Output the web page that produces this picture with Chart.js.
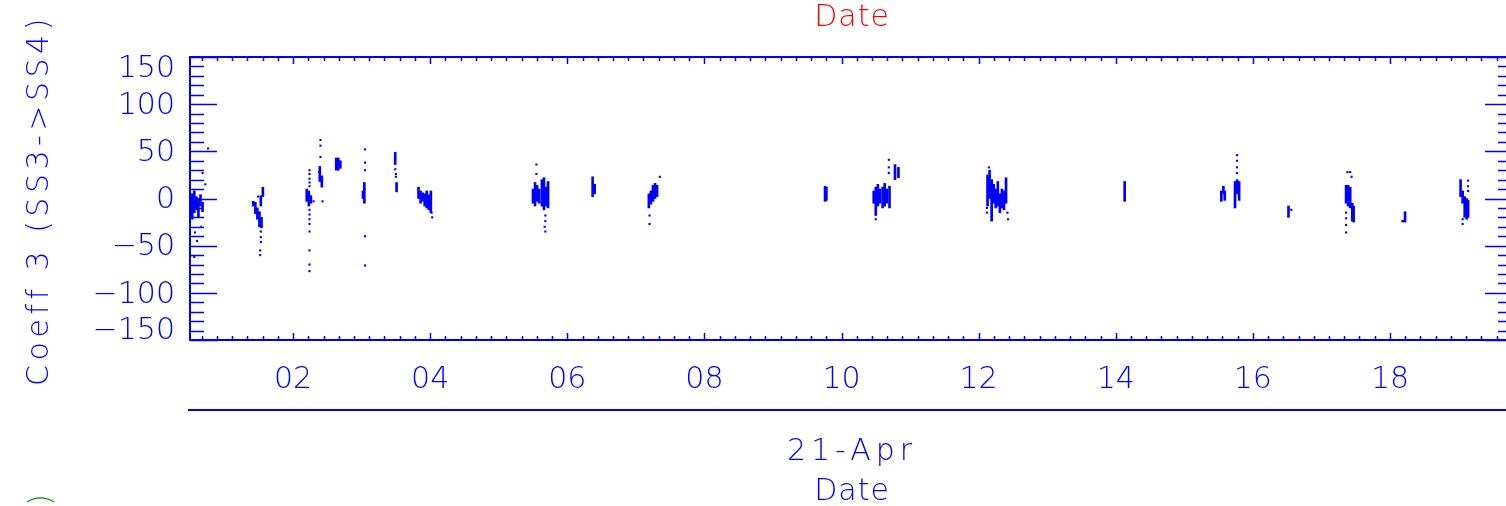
<!DOCTYPE html>
<html>
<head>
<meta charset="utf-8">
<script src="https://cdn.jsdelivr.net/npm/chart.js@4.4.1/dist/chart.umd.min.js"></script>
<style>
  html, body { margin: 0; padding: 0; background: #fff; overflow: hidden; }
  #wrap { width: 1520px; height: 506px; }
</style>
</head>
<body>
<div id="wrap"><canvas id="coeff3" width="1520" height="506"></canvas></div>
<script>
// x: hour of 21-Apr, y: coefficient 3 (SS3->SS4)
const xTickHours = [2, 4, 6, 8, 10, 12, 14, 16, 18];
const yTickValues = [-150, -100, -50, 0, 50, 100, 150];

// runs of consecutive samples -> short vertical dashes
const dashHour = [
  0.53, 0.56, 0.59, 0.62, 0.65, 0.68,
  1.42, 1.45, 1.48, 1.51, 1.54, 1.56, 1.53,
  2.20, 2.23, 2.26, 2.39, 2.42,
  2.63, 2.66, 2.69,
  3.04, 3.02, 3.49, 3.51,
  3.83, 3.86, 3.89, 3.92, 3.95, 3.98, 4.01,
  5.50, 5.53, 5.56, 5.59, 5.63, 5.66, 5.69, 5.72,
  6.37, 6.40,
  7.19, 7.22, 7.25, 7.28, 7.31,
  9.76, 9.78,
  10.47, 10.50, 10.53, 10.56, 10.60, 10.63, 10.66, 10.70, 10.78, 10.83,
  12.13, 12.16, 12.19, 12.22, 12.25, 12.28, 12.31, 12.34, 12.37, 12.40,
  14.13,
  15.54, 15.57, 15.59, 15.74, 15.77, 15.80,
  16.52,
  17.36, 17.39, 17.42, 17.45, 17.47,
  18.22,
  19.03, 19.06, 19.09, 19.12, 19.14
];
const dashLow = [
  -22, -15, -12, -20, -8, -14,
  -8, -16, -22, -30, -31, 2, -8,
  -3, -8, -5, 18, 12,
  30, 30, 32,
  -5, 0, 36, 7,
  0, -5, -3, -8, -10, -12, -15,
  -5, -8, -3, -5, -8, -12, -8, -10,
  2, 5,
  -10, -6, -3, 0, 2,
  -3, -2,
  -5, -18, -8, -5, -10, -8, -5, -10, 20, 22,
  -8, 0, -24, -5, -10, -8, -15, -10, -12, -5,
  -3,
  -3, 5, -2, -10, 5, -2,
  -20,
  -5, -8, -10, -24, -25,
  -25,
  2, -5, -20, -22, -20
];
const dashHigh = [
  5, 8, 2, 0, 4, -4,
  -3, -4, -10, -14, -20, 12, 3,
  10, 8, 3, 34, 24,
  43, 43, 40,
  17, 8, 49, 17,
  12, 8, 6, 5, 8, 4, 8,
  10, 17, 14, 10, 20, 22, 12, 18,
  23, 15,
  5, 8, 14, 16, 14,
  13, 12,
  8, 12, 15, 10, 12, 16, 10, 13, 36, 33,
  25, 30, 20, 15, 10, 18, 5, 10, 8, 22,
  18,
  8, 13, 8, 18, 20, 18,
  -8,
  14, 14, 12, -5, -8,
  -14,
  20, 8, 2, 0, -2
];

// isolated samples
const dotHour = [
  0.57, 0.60, 0.56, 0.66, 0.68, 0.72, 0.76,
  1.53, 1.53, 1.53, 1.52, 1.52, 1.49,
  2.24, 2.24, 2.24, 2.24, 2.24, 2.24, 2.24, 2.24, 2.24, 2.24, 2.24, 2.24, 2.24, 2.30,
  2.40, 2.40, 2.40, 2.38, 2.43,
  3.05, 3.05, 3.05, 3.05, 3.05,
  3.49, 3.50, 3.50,
  4.03, 4.02,
  5.55, 5.55, 5.68, 5.68, 5.67, 5.68,
  7.35, 7.20, 7.20,
  10.69, 10.69, 10.69, 10.50,
  12.15, 12.42, 12.43, 12.12, 12.12,
  15.77, 15.77, 15.77, 15.77,
  16.56,
  17.38, 17.42, 17.44, 17.36, 17.36, 17.36, 17.36,
  18.18, 18.20,
  19.14, 19.14, 19.14, 19.06, 19.06
];
const dotValue = [
  -36, -45, -62, -30, 27, 15, 53,
  -35, -41, -46, -55, -60, 2,
  30, 26, 21, 17, 13, -12, -17, -22, -27, -35, -55, -70, -77, -3,
  62, 56, 44, 28, -3,
  52, 38, 30, -40, -71,
  31, 26, 23,
  -20, -15,
  36, 26, -18, -24, -30, -35,
  23, -18, -27,
  41, 33, 27, -22,
  33, -15, -22, -10, -15,
  46, 40, 33, 27,
  -12,
  28, 28, 23, -15, -21, -28, -36,
  -24, -24,
  19, 13, 8, -22, -27
];

const BLUE = '#0000ff';
const FONT = '200 30px "DejaVu Sans"';

function label(ctx, str, x, y, opts = {}) {
  ctx.save();
  ctx.font = FONT;
  ctx.fillStyle = opts.color || BLUE;
  ctx.textAlign = opts.align || 'center';
  ctx.textBaseline = opts.baseline || 'alphabetic';
  ctx.letterSpacing = (opts.spacing || 0) + 'px';
  ctx.translate(x, y);
  if (opts.rotate) ctx.rotate(opts.rotate);
  ctx.fillText(str, 0, 0);
  ctx.restore();
}

// IDL style box: inward ticks on all four sides, plus the text around it
const idlFrame = {
  id: 'idlFrame',
  afterDraw(chart) {
    const { ctx, chartArea: a, scales: { x, y } } = chart;
    ctx.save();
    ctx.strokeStyle = BLUE;
    ctx.lineWidth = 2;
    ctx.strokeRect(a.left, a.top, a.right - a.left, a.bottom - a.top);

    ctx.beginPath();
    for (let k = 0; k <= 90; k++) {
      const v = k * 2 / 9;
      if (v < x.min || v > x.max) continue;
      const px = Math.round(x.getPixelForValue(v)) + 0.5;
      const len = k % 9 === 0 ? 7 : 4;
      ctx.moveTo(px, a.bottom); ctx.lineTo(px, a.bottom - len);
      ctx.moveTo(px, a.top); ctx.lineTo(px, a.top + len);
    }
    for (let v = -150; v <= 150; v += 10) {
      const py = Math.round(y.getPixelForValue(v)) + 0.5;
      const len = v % 50 === 0 ? 27 : 14;
      ctx.moveTo(a.left, py); ctx.lineTo(a.left + len, py);
      ctx.moveTo(a.right, py); ctx.lineTo(a.right - len, py);
    }
    ctx.lineWidth = 1.5;
    ctx.stroke();

    // date axis line under the plot
    ctx.beginPath();
    ctx.lineWidth = 2;
    ctx.moveTo(188, 410); ctx.lineTo(chart.width, 410);
    ctx.stroke();
    ctx.restore();

    yTickValues.forEach(v => {
      const py = y.getPixelForValue(v) + 2;
      const cy = Math.min(Math.max(py, a.top + 12), a.bottom - 9);
      const s = v < 0 ? '\u2212' + Math.abs(v) : String(v);
      label(ctx, s, 175, cy, { align: 'right', baseline: 'middle' });
    });

    label(ctx, 'Coeff 3 (SS3->SS4)', 40, 200, { rotate: -Math.PI / 2, baseline: 'middle', spacing: 4.5 });
    label(ctx, 'Date', 852, 26, { color: '#ff0000', spacing: 1 });
    label(ctx, '21-Apr', 852, 460, { spacing: 5 });
    label(ctx, 'Date', 852, 500, { spacing: 1 });
    label(ctx, ')', 42, 494, { color: '#008f00', rotate: -Math.PI / 2, align: 'right', baseline: 'middle' });
  }
};

new Chart(document.getElementById('coeff3'), {
  type: 'scatter',
  data: {
    datasets: [
      {
        type: 'bar',
        data: dashHour.map((h, i) => ({ x: h, y: [dashLow[i], dashHigh[i]] })),
        backgroundColor: BLUE,
        borderWidth: 0,
        barThickness: 2,
        minBarLength: 2,
      },
      {
        type: 'scatter',
        data: dotHour.map((h, i) => ({ x: h, y: dotValue[i] })),
        pointStyle: 'rect',
        pointRadius: 1.5,
        backgroundColor: BLUE,
        borderWidth: 0,
      },
    ],
  },
  options: {
    responsive: false,
    animation: false,
    devicePixelRatio: 1,
    events: [],
    layout: { padding: { top: 57, right: 8, left: 0, bottom: 0 } },
    plugins: { legend: { display: false }, tooltip: { enabled: false } },
    scales: {
      x: {
        type: 'linear',
        min: 0.497,
        max: 19.78,
        offset: false,
        grid: { display: false, drawTicks: false },
        border: { display: false },
        afterBuildTicks: s => { s.ticks = xTickHours.map(v => ({ value: v })); },
        afterFit: s => { s.height = 166; },
        ticks: {
          padding: 22,
          color: BLUE,
          maxRotation: 0,
          autoSkip: false,
          font: { family: 'DejaVu Sans', size: 30, weight: 200 },
          callback: v => String(v).padStart(2, '0'),
        },
      },
      y: {
        type: 'linear',
        min: -150,
        max: 150,
        grid: { display: false, drawTicks: false },
        border: { display: false },
        ticks: { display: false },
        afterFit: s => { s.width = 190; },
      },
    },
  },
  plugins: [idlFrame],
});
</script>
</body>
</html>
